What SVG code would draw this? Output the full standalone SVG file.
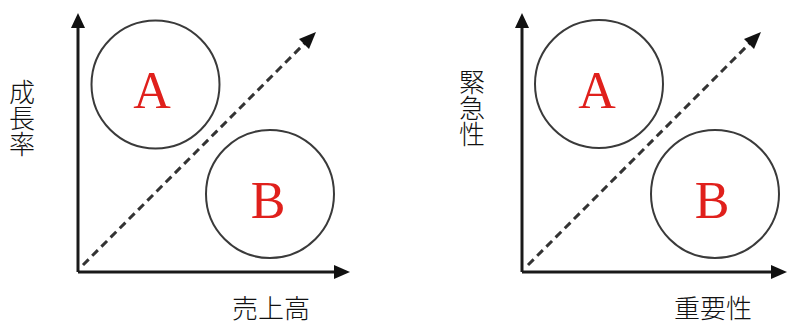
<svg xmlns="http://www.w3.org/2000/svg" width="787" height="327" viewBox="0 0 787 327">
<defs>
<style>
.axis{stroke:#1a1a1a;stroke-width:3;fill:none}
.circle{stroke:#3a3a3a;stroke-width:2;fill:none}
.dash{stroke:#333;stroke-width:3;stroke-dasharray:8 5;fill:none}
.head{fill:#111}
.letter{font-family:"Liberation Serif","DejaVu Serif",serif;font-size:52px;fill:#e0201c;text-anchor:middle}
.lab{font-family:"Noto Sans CJK JP","Noto Sans CJK SC",sans-serif;font-size:26px;font-weight:300;fill:#111}
.vlab{font-family:"Noto Sans CJK JP","Noto Sans CJK SC",sans-serif;font-size:26px;font-weight:300;fill:#111;writing-mode:vertical-rl;text-orientation:upright}
</style>
</defs>
<rect width="787" height="327" fill="#fff"/>
<g id="connectors">
<line class="axis" x1="78" y1="272" x2="78" y2="26"/>
<polygon class="head" points="78,13 71,28 85,28"/>
<line class="axis" x1="78" y1="272" x2="336" y2="272"/>
<polygon class="head" points="350,272 334,265 334,279"/>
<line class="dash" x1="83" y1="265" x2="306" y2="42"/>
<polygon class="head" points="316,32 299,39 309,49"/>
<line class="axis" x1="522" y1="272" x2="522" y2="26"/>
<polygon class="head" points="522,13 515,28 529,28"/>
<line class="axis" x1="522" y1="272" x2="773" y2="272"/>
<polygon class="head" points="787,272 771,265 771,279"/>
<line class="dash" x1="528" y1="265" x2="751" y2="42"/>
<polygon class="head" points="761,32 744,39 754,49"/>
</g>
<g id="left-A"><circle class="circle" cx="155.5" cy="84.5" r="64"/><text class="letter" x="152" y="108">A</text></g>
<g id="left-B"><circle class="circle" cx="270" cy="194" r="64"/><text class="letter" x="268" y="218">B</text></g>
<g id="left-ylabel"><text class="vlab" x="22" y="79">成長率</text></g>
<g id="left-xlabel"><text class="lab" x="232" y="318">売上高</text></g>
<g id="right-A"><circle class="circle" cx="599" cy="84" r="64"/><text class="letter" x="597" y="108">A</text></g>
<g id="right-B"><circle class="circle" cx="715" cy="194" r="64"/><text class="letter" x="712" y="218">B</text></g>
<g id="right-ylabel"><text class="vlab" x="472" y="69">緊急性</text></g>
<g id="right-xlabel"><text class="lab" x="674" y="318">重要性</text></g>
</svg>
